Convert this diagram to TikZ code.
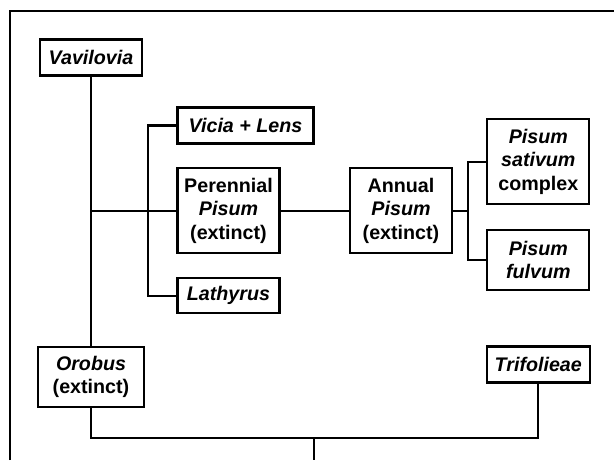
\documentclass[tikz,border=0pt]{standalone}
\usepackage{fontspec}
\setmainfont{Liberation Sans}
\usepackage{tikz}
\usetikzlibrary{calc}

\tikzset{
    taxon/.style={draw, line width=1.3pt, fill=white, align=center, inner sep=2pt,
        font=\fontsize{11.2}{13.4}\selectfont\bfseries, minimum width=2.04cm, minimum height=0.72cm},
    branch/.style={line width=1.2pt}
}

\begin{document}
\begin{tikzpicture}[x=0.02cm,y=-0.02cm]
        \useasboundingbox (0,0) rectangle (614,460);
        \draw[line width=1.4pt](10,460)--(10,11)--(614,11);
        \node[taxon] (vav) at (91,57.5) {\textit{Vavilovia}};
        \node[taxon, minimum width=2.72cm] (vicia) at (245.5,125.5) {\textit{Vicia + Lens}};
        \node[taxon, minimum height=1.7cm] (peren) at (228.5,210.8) {Perennial\\\textit{Pisum}\\(extinct)};
        \node[taxon, minimum height=0.7cm] (lath) at (228.5,295.8) {\textit{Lathyrus}};
        \node[taxon, minimum height=1.7cm] (annual) at (401,210.8) {Annual\\\textit{Pisum}\\(extinct)};
        \node[taxon, minimum height=1.7cm] (sativ) at (538.3,161.7) {\textit{Pisum}\\\textit{sativum}\\complex};
        \node[taxon, minimum height=1.2cm] (fulv) at (538.3,260) {\textit{Pisum}\\\textit{fulvum}};
        \node[taxon, minimum width=2.12cm, minimum height=1.2cm] (orob) at (91,376.7) {\textit{Orobus}\\(extinct)};
        \node[taxon, minimum width=2.06cm] (trif) at (538.3,364.5) {\textit{Trifolieae}};
        \coordinate (pfork) at (469,210.8);
        \coordinate (basefork) at (314,438.3);
        \coordinate (root) at (314,460);
        \draw[branch](vav)--(orob);
        \draw[branch](peren.west)--(peren.west -| vav.south);
        \draw[branch](vicia.west)--++(-28.4,0)|-(lath.west);
        \draw[branch](peren)--(annual);
        \draw[branch](annual.east)--(pfork);
        \draw[branch](sativ.west)--++(-18.3,0)|-(fulv.west);
        \draw[branch](orob.south)|-(basefork)-|(trif.south);
        \draw[branch](basefork)--(root);
    \end{tikzpicture}
\end{document}
